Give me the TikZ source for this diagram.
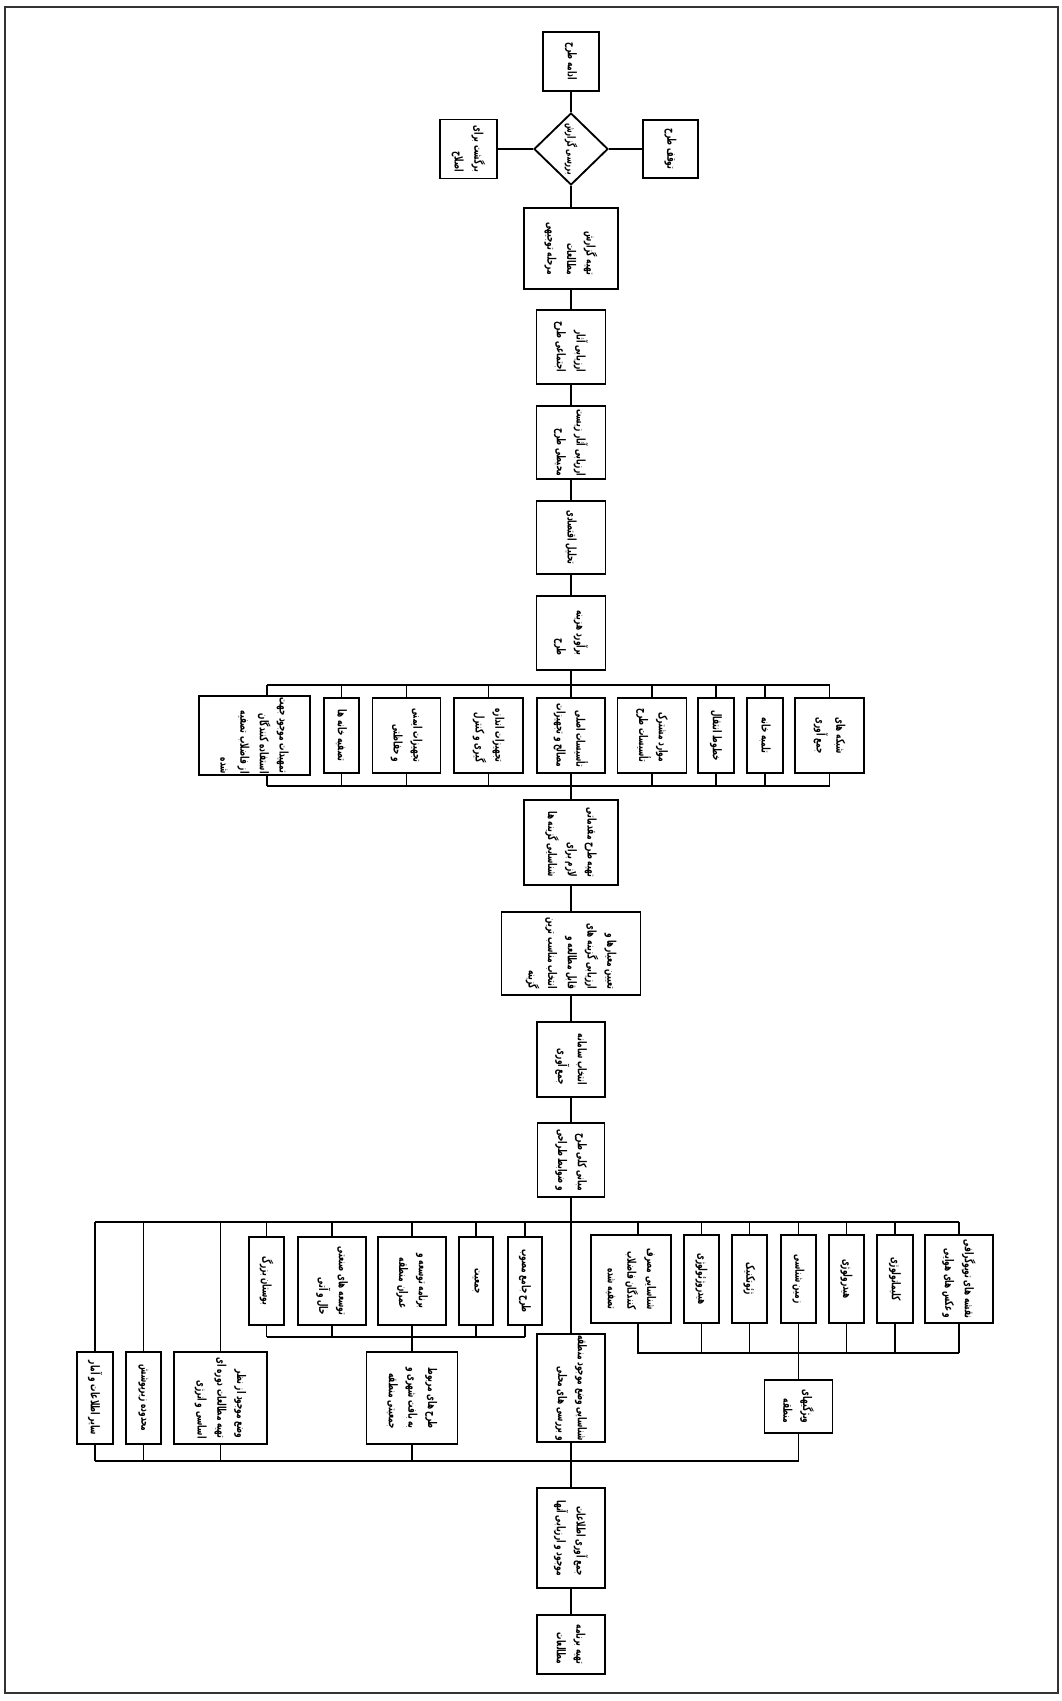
\documentclass[tikz,border=0pt]{standalone}
\usepackage{fontspec}
\newfontfamily\farsi[Script=Arabic, FakeStretch=0.62]{DejaVu Sans}
\TeXXeTstate=1
\usetikzlibrary{shapes.geometric}
\newcommand\RL[1]{\beginR #1\endR}
\begin{document}
\begin{tikzpicture}[x=0.025cm, y=-0.025cm,
  fbox/.style 2 args={draw, line width=1.3pt, rotate=-90,
     minimum width=#2*0.025cm, minimum height=#1*0.025cm,
     inner sep=1pt, align=right, font=\farsi\bfseries\fontsize{8.5}{14}\selectfont},
  ln/.style={line width=0.85pt}]
\useasboundingbox (0,0) rectangle (1062,1701);
\draw[line width=1.6pt, black!80] (5,7) rectangle (1058,1693);

% top decision part
\node[fbox={56}{59}] (cont) at (571,61.5) {\RL{ادامه طرح}};
\node[draw, diamond, rotate=-90, line width=1.3pt, aspect=1, inner sep=-7pt,
      minimum width=72*0.025cm, minimum height=74*0.025cm,
      font=\farsi\bfseries\fontsize{8}{9}\selectfont] (dia) at (571,149) {\RL{بررسی گزارش}};
\node[fbox={57}{59}] (ret) at (468.5,149) {\RL{برگشت برای}\\\RL{اصلاح}};
\node[fbox={55}{58}] (stop) at (670.5,149) {\RL{توقف طرح}};
\node[fbox={94}{81}] (rep) at (571,248.5) {\RL{تهیه گزارش}\\\RL{مطالعات}\\\RL{مرحله توجیهی}};
\node[fbox={69}{74}] (soc) at (571,347) {\RL{ارزیابی آثار}\\\RL{اجتماعی طرح}};
\node[fbox={69}{73}] (env) at (571,442.5) {\RL{ارزیابی آثار زیست}\\\RL{محیطی طرح}};
\node[fbox={69}{73}] (eco) at (571,537.5) {\RL{تحلیل اقتصادی}};
\node[fbox={69}{74}] (cost) at (571,633) {\RL{برآورد هزینه}\\\RL{طرح}};

% row of design items
\node[fbox={111}{75}] (r1) at (254.5,735.5) {\RL{تمهیدات موجود جهت}\\\RL{استفاده کنندگان}\\\RL{از فاضلاب تصفیه}\\\RL{شده}};
\node[fbox={35}{75}] (r2) at (341.5,735.5) {\RL{تصفیه خانه ها}};
\node[fbox={68}{75}] (r3) at (406.5,735.5) {\RL{تجهیزات ایمنی}\\\RL{و حفاظتی}};
\node[fbox={69}{75}] (r4) at (488.5,735.5) {\RL{تجهیزات اندازه}\\\RL{گیری و کنترل}};
\node[fbox={68}{75}] (r5) at (571,735.5) {\RL{تأسیسات اصلی}\\\RL{مصالح و تجهیزات}};
\node[fbox={69}{75}] (r6) at (652,735.5) {\RL{موارد مشترک}\\\RL{تأسیسات طرح}};
\node[fbox={36}{75}] (r7) at (716,735.5) {\RL{خطوط انتقال}};
\node[fbox={36}{75}] (r8) at (765,735.5) {\RL{تلمبه خانه}};
\node[fbox={69}{75}] (r9) at (829.5,735.5) {\RL{شبکه های}\\\RL{جمع آوری}};

\node[fbox={94}{85}] (pre) at (571,842.5) {\RL{تهیه طرح مقدماتی}\\\RL{لازم برای}\\\RL{شناسایی گزینه ها}};
\node[fbox={139}{83}] (crit) at (571,953.5) {\RL{تعیین معیارها و}\\\RL{ارزیابی گزینه های}\\\RL{قابل مطالعه و}\\\RL{انتخاب مناسب ترین}\\\RL{گزینه}};
\node[fbox={68}{75}] (sel) at (571,1059.5) {\RL{انتخاب سامانه}\\\RL{جمع آوری}};
\node[fbox={67}{74}] (basis) at (571,1160) {\RL{مبانی کلی طرح}\\\RL{و ضوابط طراحی}};

% right group of studies
\node[fbox={80}{88}] (g1) at (631,1279) {\RL{شناسایی مصرف}\\\RL{کنندگان فاضلاب}\\\RL{تصفیه شده}};
\node[fbox={35}{88}] (g2) at (701.5,1279) {\RL{هیدروژئولوژی}};
\node[fbox={35}{88}] (g3) at (749.5,1279) {\RL{ژئوتکنیک}};
\node[fbox={35}{88}] (g4) at (798.5,1279) {\RL{زمین شناسی}};
\node[fbox={35}{88}] (g5) at (846.5,1279) {\RL{هیدرولوژی}};
\node[fbox={36}{88}] (g6) at (895,1279) {\RL{کلیماتولوژی}};
\node[fbox={68}{88}] (g7) at (959,1279) {\RL{نقشه های توپوگرافی}\\\RL{و عکس های هوایی}};
\node[fbox={68}{53}] (g8) at (798.5,1406.5) {\RL{ویژگیهای}\\\RL{منطقه}};

% left group of studies
\node[fbox={34}{88}] (u1) at (525,1281) {\RL{طرح جامع مصوب}};
\node[fbox={34}{88}] (u2) at (476,1281) {\RL{جمعیت}};
\node[fbox={68}{88}] (u3) at (412,1281) {\RL{برنامه توسعه و}\\\RL{عمران منطقه}};
\node[fbox={68}{88}] (u4) at (332,1281) {\RL{توسعه های صنعتی}\\\RL{حال و آتی}};
\node[fbox={35}{88}] (u5) at (266.5,1281) {\RL{بوستان بزرگ}};
\node[fbox={91}{92}] (l1) at (412,1398) {\RL{طرح های مربوط}\\\RL{به بافت شهری و}\\\RL{جمعیتی منطقه}};
\node[fbox={93}{92}] (l2) at (220.5,1398) {\RL{وضع موجود از نظر}\\\RL{تهیه مطالعات دوره ای}\\\RL{اساسی و انرژی}};
\node[fbox={35}{92}] (l3) at (143.5,1398) {\RL{محدوده زیرپوشش}};
\node[fbox={36}{92}] (l4) at (95,1398) {\RL{سایر اطلاعات و آمار}};

\node[fbox={68}{90}] (exist) at (571,1388) {\RL{شناسایی وضع موجود منطقه}\\\RL{و بررسی های محلی}};
\node[fbox={68}{100}] (collect) at (571,1538) {\RL{جمع آوری اطلاعات}\\\RL{موجود و ارزیابی آنها}};
\node[fbox={68}{59}] (prog) at (571,1644.5) {\RL{تهیه برنامه}\\\RL{مطالعات}};

% bus coordinates
\coordinate (tbL) at (267,685);
\coordinate (bbL) at (267,786);
\coordinate (b1L) at (95,1222);
\coordinate (g1s) at (638,1222);
\coordinate (b2L) at (638,1353);
\coordinate (sb) at (266.5,1337);
\coordinate (b3) at (95,1461);

% main chain
\draw[ln] (cont) -- (dia);
\draw[ln] (dia) -- (rep);
\draw[ln] (ret) -- (dia);
\draw[ln] (dia) -- (stop);
\draw[ln] (rep) -- (soc);
\draw[ln] (soc) -- (env);
\draw[ln] (env) -- (eco);
\draw[ln] (eco) -- (cost);
\draw[ln] (cost) -- (r5);
\draw[ln] (r5) -- (pre);
\draw[ln] (pre) -- (crit);
\draw[ln] (crit) -- (sel);
\draw[ln] (sel) -- (basis);
\draw[ln] (basis) -- (exist);
\draw[ln] (exist) -- (collect);
\draw[ln] (collect) -- (prog);

% top row buses
\draw[ln] (tbL) -- (r9 |- tbL);
\draw[ln] (bbL) -- (r9 |- bbL);
\draw[ln] (tbL) -- (tbL |- r1.west);
\draw[ln] (bbL) -- (bbL |- r1.east);
\foreach \n in {r2,r3,r4,r6,r7,r8,r9}{
  \draw[ln] (\n |- tbL) -- (\n);
  \draw[ln] (\n) -- (\n |- bbL);
}

% study bus
\draw[ln] (b1L) -- (g7 |- b1L);
\draw[ln] (g1s) -- (g1s |- g1.west);
\draw[ln] (b2L |- g1.east) -- (b2L) -- (g7 |- b2L);
\foreach \n in {g2,g3,g4,g5,g6,g7}{
  \draw[ln] (\n |- b1L) -- (\n);
  \draw[ln] (\n) -- (\n |- b2L);
}
\draw[ln] (g4) -- (g8);
\draw[ln] (g8) -- (g8 |- b3);
\draw[ln] (b3) -- (g8 |- b3);

% left group
\foreach \n in {u1,u2,u3,u4,u5}{
  \draw[ln] (\n |- b1L) -- (\n);
  \draw[ln] (\n) -- (\n |- sb);
}
\draw[ln] (sb) -- (u1 |- sb);
\draw[ln] (u3 |- sb) -- (l1);
\foreach \n in {l2,l3,l4}{
  \draw[ln] (\n |- b1L) -- (\n);
}
\foreach \n in {l1,l2,l3,l4}{
  \draw[ln] (\n) -- (\n |- b3);
}
\end{tikzpicture}
\end{document}
